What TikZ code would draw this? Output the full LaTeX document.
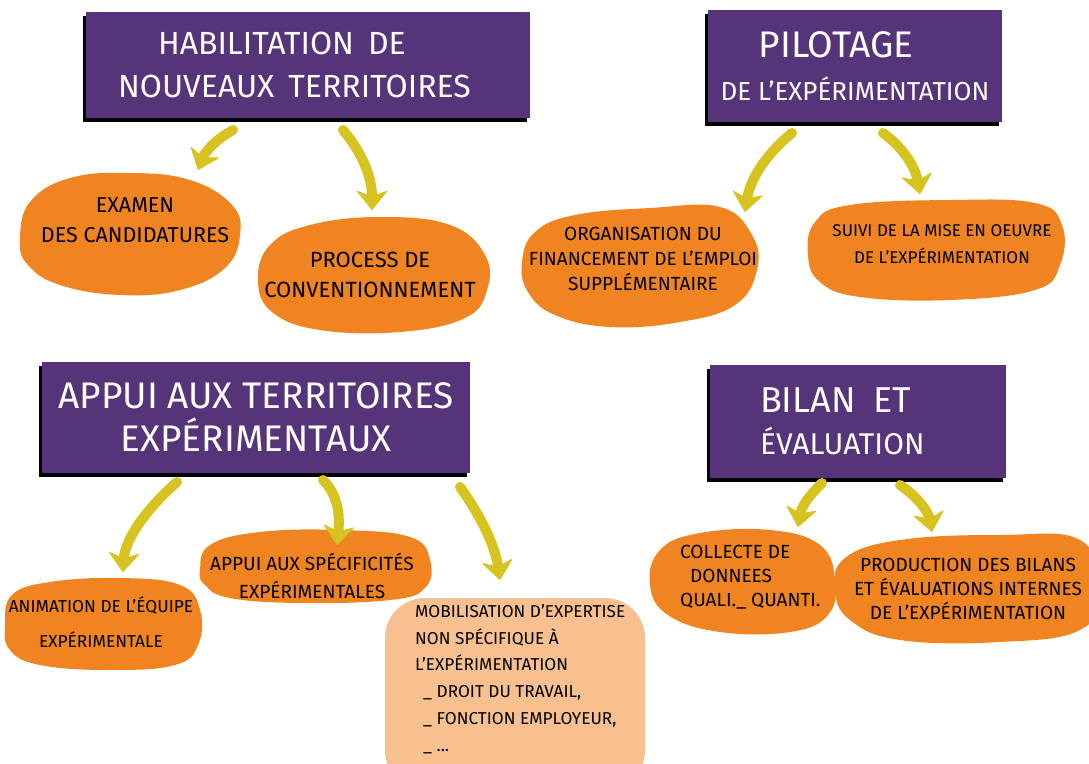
\documentclass[tikz,border=0pt]{standalone}
\usepackage{fontspec}
\setmainfont{Fira Sans}
\usetikzlibrary{arrows.meta,shadows}
\definecolor{hdr}{RGB}{86,52,122}
\definecolor{blobc}{RGB}{240,132,32}
\definecolor{blobl}{RGB}{249,192,143}
\definecolor{arrc}{RGB}{214,195,32}
\begin{document}
\begin{tikzpicture}[x=1pt,y=-1pt,
  header/.style={fill=hdr, text=white, inner sep=0pt,
    general shadow={fill=black, shadow xshift=-3pt, shadow yshift=-4pt}},
  blobtxt/.style={text=black, inner sep=0pt},
  blobfill/.style={fill=blobc},
  arrowc/.style={draw=arrc, line width=10pt, line cap=round,
    -{Stealth[length=20pt,width=32pt,inset=6pt,round,line width=1pt]}},
]
\useasboundingbox (0,0) rectangle (1089,763);
\fill[white] (0,0) rectangle (1089,763);
\clip (0,0) rectangle (1089,763);

% ---------- headers ----------
\node[header, minimum height=106pt, text width=380pt, inner xsep=32pt, align=left,
  font=\fontsize{32}{43}\selectfont] (h1) at (308,65)
  {\hspace*{40pt}HABILITATION\hspace{14pt}DE\\NOUVEAUX\hspace{14pt}TERRITOIRES};
\node[header, minimum width=294pt, minimum height=112pt, align=center] (h2) at (855,66)
  {\fontsize{37}{44}\selectfont PILOTAGE\hspace*{38pt}\\[18pt]\fontsize{26}{30}\selectfont DE L'EXPÉRIMENTATION};
\node[header, minimum width=428pt, minimum height=111pt, align=center,
  font=\fontsize{37}{43}\selectfont] (h3) at (256,417)
  {APPUI AUX TERRITOIRES\\EXPÉRIMENTAUX};
\node[header, minimum height=113pt, text width=196pt, inner xsep=50pt, align=left] (h4) at (858,421)
  {\fontsize{36}{42}\selectfont BILAN\hspace{18pt}ET\\[14pt]\fontsize{30}{36}\selectfont ÉVALUATION};

% ---------- blobs ----------
\fill[blobfill] plot[smooth cycle, tension=0.7] coordinates {(20,240) (30,202) (70,178) (130,173) (190,180) (232,205) (240,235) (225,268) (180,290) (120,295) (60,285) (28,265)};
\fill[blobfill] plot[smooth cycle, tension=0.7] coordinates {(258,280) (270,245) (310,225) (380,217) (450,225) (485,255) (487,290) (465,318) (400,332) (320,330) (272,312)};
\fill[blobfill] plot[smooth cycle, tension=0.7] coordinates {(522,262) (535,232) (575,215) (650,208) (720,207) (752,235) (757,270) (735,305) (680,322) (610,327) (555,315) (528,292)};
\fill[blobfill] plot[smooth cycle, tension=0.7] coordinates {(808,255) (815,222) (850,205) (950,200) (1035,203) (1062,225) (1060,265) (1035,290) (950,300) (860,297) (820,282)};
\fill[blobfill] plot[smooth cycle, tension=0.7] coordinates {(5,625) (12,595) (50,582) (120,578) (180,585) (200,610) (198,645) (175,665) (110,670) (40,665) (10,650)};
\fill[blobfill] plot[smooth cycle, tension=0.7] coordinates {(200,570) (210,545) (260,532) (340,530) (410,537) (430,560) (425,588) (390,600) (300,603) (230,598) (205,585)};
\fill[blobl, rounded corners=40pt] (385,598) rectangle (645,790);
\fill[blobfill] plot[smooth cycle, tension=0.7] coordinates {(650,585) (660,550) (700,533) (770,530) (820,545) (835,580) (828,615) (790,632) (720,632) (668,615)};
\fill[blobfill] plot[smooth cycle, tension=0.7] coordinates {(835,590) (845,558) (900,540) (1000,535) (1080,540) (1100,590) (1080,630) (1000,642) (900,640) (850,620)};

% ---------- blob texts ----------
\node[blobtxt, align=center, font=\fontsize{21.5}{30}\selectfont] (examen) at (135,220) {EXAMEN\\DES CANDIDATURES};
\node[blobtxt, align=center, font=\fontsize{22}{30}\selectfont] (process) at (370,275) {PROCESS DE\\CONVENTIONNEMENT};
\node[blobtxt, align=center, font=\fontsize{19}{25}\selectfont] (orga) at (643,259) {ORGANISATION DU\\FINANCEMENT DE L'EMPLOI\\SUPPLÉMENTAIRE};
\node[blobtxt, align=center, font=\fontsize{17}{27}\selectfont] (suivi) at (942,244) {SUIVI DE LA MISE EN OEUVRE\\DE L'EXPÉRIMENTATION};
\node[blobtxt, align=center, font=\fontsize{17.3}{35}\selectfont] (anim) at (101,622) {ANIMATION DE L'ÉQUIPE\\EXPÉRIMENTALE};
\node[blobtxt, align=center, font=\fontsize{19}{28}\selectfont] (appspe) at (312,576) {APPUI AUX SPÉCIFICITÉS\\EXPÉRIMENTALES};
\node[blobtxt, align=left, anchor=west, font=\fontsize{17.2}{26.8}\selectfont] (mobil) at (415,679)
  {MOBILISATION D'EXPERTISE\\NON SPÉCIFIQUE À\\L'EXPÉRIMENTATION\\\hspace*{8pt}\_ DROIT DU TRAVAIL,\\\hspace*{8pt}\_ FONCTION EMPLOYEUR,\\\hspace*{8pt}\_ ...};
\node[blobtxt, align=left, anchor=west, font=\fontsize{19}{24}\selectfont] (collecte) at (680,577) {COLLECTE DE\\\hspace*{10pt}DONNEES\\QUALI.\_ QUANTI.};
\node[blobtxt, align=center, font=\fontsize{19}{24}\selectfont] (prod) at (968,589) {PRODUCTION DES BILANS\\ET ÉVALUATIONS INTERNES\\DE L'EXPÉRIMENTATION};

% ---------- arrow ends ----------
\coordinate (a1s) at (233,130); \coordinate (a1e) at (198,170);
\coordinate (a2s) at (343,130); \coordinate (a2e) at (372,210);
\coordinate (a3s) at (792,133); \coordinate (a3e) at (745,212);
\coordinate (a4s) at (883,133); \coordinate (a4e) at (920,194);
\coordinate (a5s) at (177,482); \coordinate (a5e) at (123,572);
\coordinate (a6s) at (323,480); \coordinate (a6e) at (337,545);
\coordinate (a7s) at (460,487); \coordinate (a7e) at (500,580);
\coordinate (a8s) at (822,483); \coordinate (a8e) at (798,527);
\coordinate (a9s) at (900,485); \coordinate (a9e) at (932,532);

\draw[arrowc] (a1s) .. controls (215,140) and (205,152) .. (a1e);
\draw[arrowc] (a2s) .. controls (360,150) and (372,175) .. (a2e);
\draw[arrowc] (a3s) .. controls (765,155) and (750,180) .. (a3e);
\draw[arrowc] (a4s) .. controls (900,145) and (915,165) .. (a4e);
\draw[arrowc] (a5s) .. controls (145,510) and (125,540) .. (a5e);
\draw[arrowc] (a6s) .. controls (338,495) and (340,515) .. (a6e);
\draw[arrowc] (a7s) .. controls (480,515) and (495,545) .. (a7e);
\draw[arrowc] (a8s) .. controls (810,495) and (802,505) .. (a8e);
\draw[arrowc] (a9s) .. controls (915,495) and (928,510) .. (a9e);
\end{tikzpicture}
\end{document}
